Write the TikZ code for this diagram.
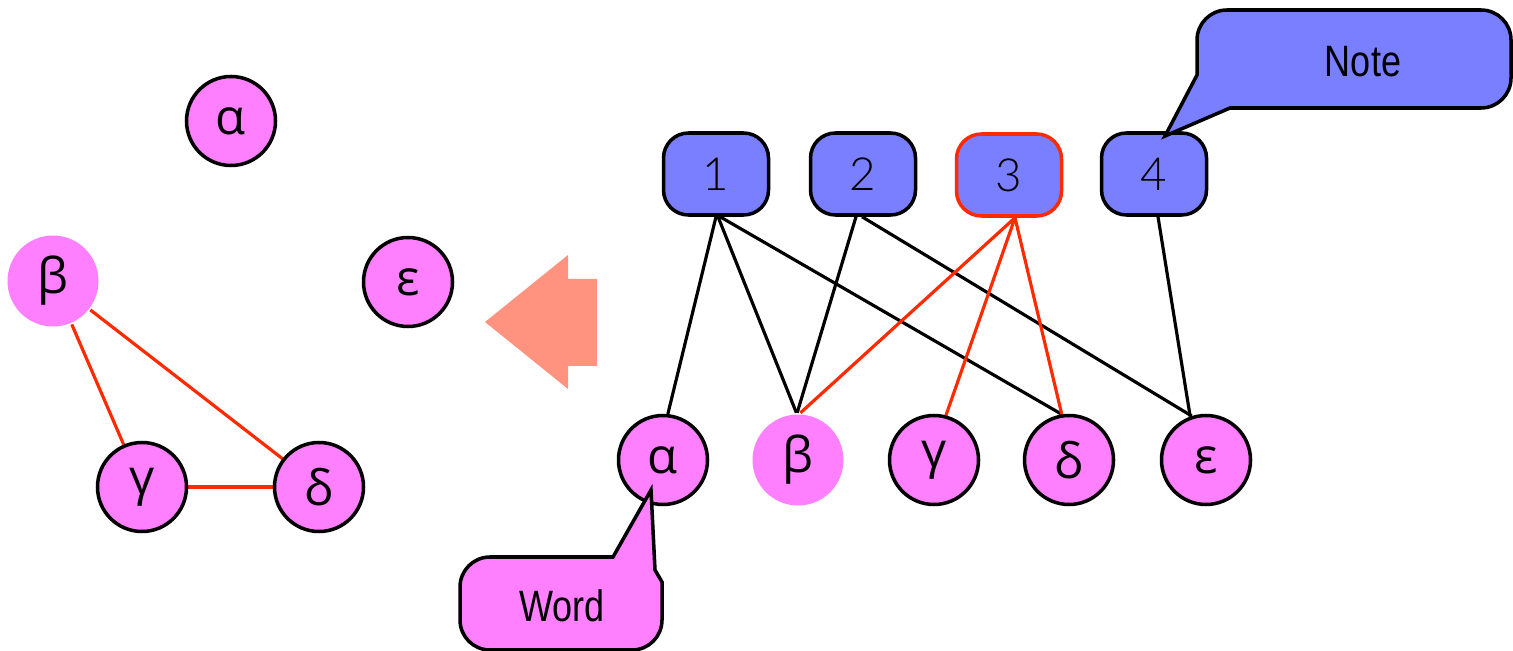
\documentclass[tikz,border=0pt]{standalone}
\usepackage{fontspec}
\setmainfont{Liberation Sans}
\newfontfamily\greekfont{Open Sans}
\newfontfamily\numfont{Lato}[UprightFont=* Light]
\newfontfamily\narrowfont{Liberation Sans}[FakeStretch=0.82]
\usetikzlibrary{backgrounds,calc}
\definecolor{nodepink}{HTML}{FF80FF}
\definecolor{boxblue}{HTML}{7A7FFF}
\definecolor{linkred}{HTML}{FF2A00}
\definecolor{arrowsalmon}{HTML}{FF9380}
\tikzset{
  vert/.style={circle,fill=nodepink,draw=black,line width=2pt,minimum size=89*0.02cm,inner sep=0pt,font=\greekfont\fontsize{28}{28}\selectfont},
  vertfree/.style={vert,draw=none,minimum size=91*0.02cm},
  numbox/.style={rectangle,rounded corners=0.5cm,fill=boxblue,draw=black,line width=2pt,minimum width=105*0.02cm,minimum height=82*0.02cm,inner sep=0pt,font=\numfont\fontsize{26}{26}\selectfont},
  link/.style={line width=1.8pt,black},
  redlink/.style={line width=1.8pt,linkred},
  callout/.style={line width=2pt,draw=black,line join=miter},
}
\begin{document}
\begin{tikzpicture}[x=0.02cm,y=-0.02cm]
\useasboundingbox (0,0) rectangle (1513,651);

% left graph
\node[vert] (la) at (231,121) {α};
\node[vertfree] (lb) at (53,281) {β};
\node[vert] (le) at (408,282) {ε};
\node[vert] (lg) at (142,487) {γ};
\node[vert] (ld) at (319,487) {δ};

% conversion arrow
\fill[arrowsalmon] (485,322) -- (568,255) -- (568,279) -- (597,279) -- (597,366) -- (568,366) -- (568,389) -- cycle;

% top row of boxes
\node[numbox] (b1) at (716,174) {1};
\node[numbox] (b2) at (863,174) {2};
\node[numbox,draw=linkred] (b3) at (1009,175) {3};
\node[numbox] (b4) at (1154,174) {4};

% bottom row of vertices
\node[vert] (ra) at (663,460) {α};
\node[vertfree] (rb) at (798,460) {β};
\node[vert] (rg) at (934,460) {γ};
\node[vert] (rd) at (1069,460) {δ};
\node[vert] (re) at (1206,460) {ε};

\begin{pgfonlayer}{background}
  \draw[redlink] (lb) -- (lg);
  \draw[redlink] (lb) -- (ld);
  \draw[redlink] (lg) -- (ld);

  \draw[link] (b1.south) -- (ra.84);
  \draw[link] ($(b1.south)+(2,0)$) -- (rb.92);
  \draw[link] ($(b1.south)+(4,0)$) -- (rd.99);
  \draw[link] ($(b2.south)+(-7,0)$) -- (rb.91);
  \draw[link] ($(b2.south)+(-1,0)$) -- (re.108);
  \draw[redlink] ($(b3.south)+(6,0)$) -- (rb.87);
  \draw[redlink] ($(b3.south)+(6,0)$) -- (rg.75);
  \draw[redlink] ($(b3.south)+(6,0)$) -- (rd.99);
  \draw[link] ($(b4.south)+(4,0)$) -- (re.110);
\end{pgfonlayer}

% speech bubble at the top right (y grows downwards, so angles turn clockwise)
\coordinate (notetip) at (1165,136);
\draw[callout,fill=boxblue] (notetip) -- (1230,108) -- (1481,108)
  arc[start angle=90,end angle=0,radius=30] -- (1511,40)
  arc[start angle=0,end angle=-90,radius=30] -- (1227,10)
  arc[start angle=-90,end angle=-180,radius=30] -- (1197,75) -- cycle;
\node[font=\narrowfont\fontsize{25}{25}\selectfont] (note) at (1363,62) {Note};

% speech bubble at the bottom left
\coordinate (wordtip) at (651,490);
\draw[callout,fill=nodepink] (wordtip) -- (655,570) -- (662,582) -- (662,620)
  arc[start angle=0,end angle=90,radius=30] -- (490,650)
  arc[start angle=90,end angle=180,radius=30] -- (460,587)
  arc[start angle=180,end angle=270,radius=30] -- (613,557) -- cycle;
\node[font=\narrowfont\fontsize{25}{25}\selectfont] (word) at (562,606) {Word};
\end{tikzpicture}
\end{document}
